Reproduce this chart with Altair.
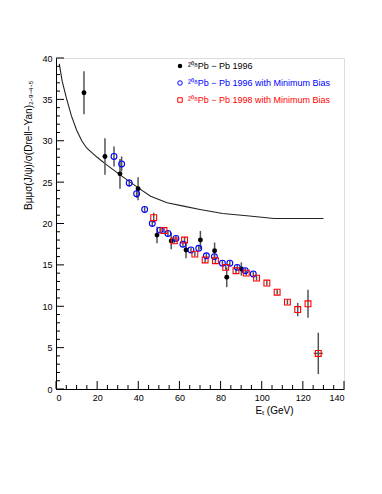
import altair as alt
import pandas as pd

# --- data ---
black_x = [13.6, 23.8, 31.1, 39.9, 49.1, 56.0, 63.2, 70.2, 77.1, 83.0, 90.1]
black_y = [35.8, 28.1, 26.0, 24.2, 18.6, 17.9, 16.8, 18.0, 16.7, 13.5, 14.5]
black_err = [2.6, 2.2, 1.8, 1.4, 1.0, 1.0, 1.0, 1.1, 1.0, 1.2, 0.8]

blue_x = [28.2, 31.9, 35.6, 39.2, 43.1, 46.8, 50.6, 54.4, 58.3, 61.7, 65.6, 69.4,
          73.1, 77.0, 80.9, 84.5, 88.1, 92.0, 95.9]
blue_y = [28.1, 27.2, 24.9, 23.6, 21.7, 20.0, 19.2, 18.8, 18.2, 17.5, 16.8, 17.0,
          16.1, 16.0, 15.2, 15.2, 14.7, 14.3, 13.9]
blue_err = [1.2, 0.9, 0.45, 0.5, 0.3, 0.3, 0.3, 0.3, 0.3, 0.3, 0.3, 0.3,
            0.3, 0.3, 0.3, 0.3, 0.3, 0.3, 0.3]

red_x = [47.5, 52.5, 57.5, 62.5, 67.5, 72.5, 77.5, 82.5, 87.5, 92.5, 97.5, 102.5,
         107.5, 112.5, 117.5, 122.5, 127.5]
red_y = [20.7, 19.15, 17.9, 18.0, 16.3, 15.6, 15.5, 14.7, 14.3, 14.0, 13.4, 12.8,
         11.7, 10.5, 9.6, 10.3, 4.3]
red_err = [0.6, 0.3, 0.3, 0.4, 0.3, 0.3, 0.3, 0.3, 0.3, 0.3, 0.3, 0.3,
           0.3, 0.3, 0.8, 1.7, 2.5]
red_xerr = [0, 0, 0, 0, 0, 0, 0, 0, 0, 0, 0, 0, 0, 0, 0, 0, 2.2]

curve_x = [1.6, 3, 5, 7.5, 10, 12.5, 15, 20, 24, 31, 40, 46, 54, 62, 70, 81, 94, 106, 130]
curve_y = [39.3, 37.2, 35.2, 33.0, 31.3, 30.0, 29.1, 28.0, 27.2, 25.9, 24.3, 23.3,
           22.5, 22.1, 21.7, 21.2, 20.9, 20.6, 20.6]

legend_labels = ["²⁰⁸Pb − Pb 1996",
                 "²⁰⁸Pb − Pb 1996 with Minimum Bias",
                 "²⁰⁸Pb − Pb 1998 with Minimum Bias"]
legend_colors = ["black", "blue", "red"]
legend_shapes = ["circle", "circle", "square"]
legend_filled = [True, False, False]

y_major = list(range(0, 41, 5))
y_minor = [v for v in range(0, 41) if v % 5 != 0]
x_major = list(range(0, 141, 20))
x_minor = [v for v in range(0, 141, 5) if v % 20 != 0]

W, H = 288, 331
FONT = "Liberation Sans"

xs = alt.Scale(domain=[0, 140], nice=False, zero=False)
ys = alt.Scale(domain=[0, 40], nice=False, zero=False)

black = pd.DataFrame({"x": black_x, "y": black_y,
                      "lo": [a - b for a, b in zip(black_y, black_err)],
                      "hi": [a + b for a, b in zip(black_y, black_err)]})
blue = pd.DataFrame({"x": blue_x, "y": blue_y,
                     "lo": [a - b for a, b in zip(blue_y, blue_err)],
                     "hi": [a + b for a, b in zip(blue_y, blue_err)]})
red = pd.DataFrame({"x": red_x, "y": red_y,
                    "lo": [a - b for a, b in zip(red_y, red_err)],
                    "hi": [a + b for a, b in zip(red_y, red_err)],
                    "xlo": [a - b for a, b in zip(red_x, red_xerr)],
                    "xhi": [a + b for a, b in zip(red_x, red_xerr)]})
curve = pd.DataFrame({"x": curve_x, "y": curve_y})

X = alt.X("x:Q", scale=xs, axis=alt.Axis(
    values=x_major, ticks=False, grid=False, title="Eₜ (GeV)",
    labelFont=FONT, labelFontSize=9, labelColor="black", labelPadding=4,
    titleFont=FONT, titleFontSize=10, titleFontWeight="normal", titleColor="black",
    titleX=237, titleY=21, titleAlign="right", titleBaseline="middle",
    domainColor="black"))
Y = alt.Y("y:Q", scale=ys, axis=alt.Axis(
    values=y_major, ticks=False, grid=False,
    title="Bμμσ(J/ψ)/σ(Drell−Yan)₂.₉₋₄.₅",
    labelFont=FONT, labelFontSize=9, labelColor="black", labelPadding=4,
    titleFont=FONT, titleFontSize=10, titleFontWeight="normal", titleColor="black",
    titleX=-28, titleY=22, titleAngle=270, titleAlign="right", titleBaseline="middle",
    domainColor="black"))

base_curve = alt.Chart(curve).mark_line(color="#222", strokeWidth=1.1).encode(
    x=X, y=Y, order="x:Q")

err_col = "#555"
eb_black = alt.Chart(black).mark_rule(color=err_col, strokeWidth=1.5).encode(
    x=alt.X("x:Q", scale=xs), y=alt.Y("lo:Q", scale=ys), y2="hi:Q")
eb_blue = alt.Chart(blue).mark_rule(color=err_col, strokeWidth=1.5).encode(
    x=alt.X("x:Q", scale=xs), y=alt.Y("lo:Q", scale=ys), y2="hi:Q")
eb_red = alt.Chart(red).mark_rule(color=err_col, strokeWidth=1.5).encode(
    x=alt.X("x:Q", scale=xs), y=alt.Y("lo:Q", scale=ys), y2="hi:Q")
ebx_red = alt.Chart(red).mark_rule(color=err_col, strokeWidth=1.5).encode(
    x=alt.X("xlo:Q", scale=xs), x2="xhi:Q", y=alt.Y("y:Q", scale=ys))

pts_black = alt.Chart(black).mark_point(shape="circle", filled=True, color="black",
                                        size=24, opacity=1).encode(
    x=alt.X("x:Q", scale=xs), y=alt.Y("y:Q", scale=ys))
pts_blue = alt.Chart(blue).mark_point(shape="circle", filled=False, color="blue",
                                      size=34, strokeWidth=1.1, opacity=1).encode(
    x=alt.X("x:Q", scale=xs), y=alt.Y("y:Q", scale=ys))
pts_red = alt.Chart(red).mark_point(shape="square", filled=False, color="red",
                                    size=34, strokeWidth=1.1, opacity=1).encode(
    x=alt.X("x:Q", scale=xs), y=alt.Y("y:Q", scale=ys))

# inside tick marks
ymaj = alt.Chart(pd.DataFrame({"v": y_major})).mark_rule(color="black").encode(
    y=alt.Y("v:Q", scale=ys), x=alt.value(0), x2=alt.value(8))
ymin = alt.Chart(pd.DataFrame({"v": y_minor})).mark_rule(color="black").encode(
    y=alt.Y("v:Q", scale=ys), x=alt.value(0), x2=alt.value(4))
xmaj = alt.Chart(pd.DataFrame({"v": x_major})).mark_rule(color="black").encode(
    x=alt.X("v:Q", scale=xs), y=alt.value(H), y2=alt.value(H - 8))
xmin = alt.Chart(pd.DataFrame({"v": x_minor})).mark_rule(color="black").encode(
    x=alt.X("v:Q", scale=xs), y=alt.value(H), y2=alt.value(H - 4))

# legend (manual, placed in the top of the frame)
legend_layers = []
for i, (lab, col, shp, fil) in enumerate(zip(legend_labels, legend_colors,
                                              legend_shapes, legend_filled)):
    d = pd.DataFrame({"label": [lab]})
    yy = 8 + 17 * i
    legend_layers.append(
        alt.Chart(d).mark_point(shape=shp, filled=fil, color=col,
                                size=20, strokeWidth=1, opacity=1).encode(
            x=alt.value(124), y=alt.value(yy)))
    legend_layers.append(
        alt.Chart(d).mark_text(align="left", baseline="middle", font=FONT,
                               fontSize=9, color=col).encode(
            x=alt.value(132), y=alt.value(yy), text="label:N"))

chart = alt.layer(
    base_curve, eb_black, eb_blue, eb_red, ebx_red,
    pts_black, pts_blue, pts_red,
    ymaj, ymin, xmaj, xmin,
    *legend_layers,
).properties(
    width=W, height=H,
    autosize=alt.AutoSizeParams(type="none"),
    padding={"left": 48, "top": 50, "right": 30, "bottom": 60},
).configure_view(stroke="#b0b0b0", strokeWidth=1).configure(background="white")

chart.save("out.html", embed_options={"renderer": "svg", "actions": False})
